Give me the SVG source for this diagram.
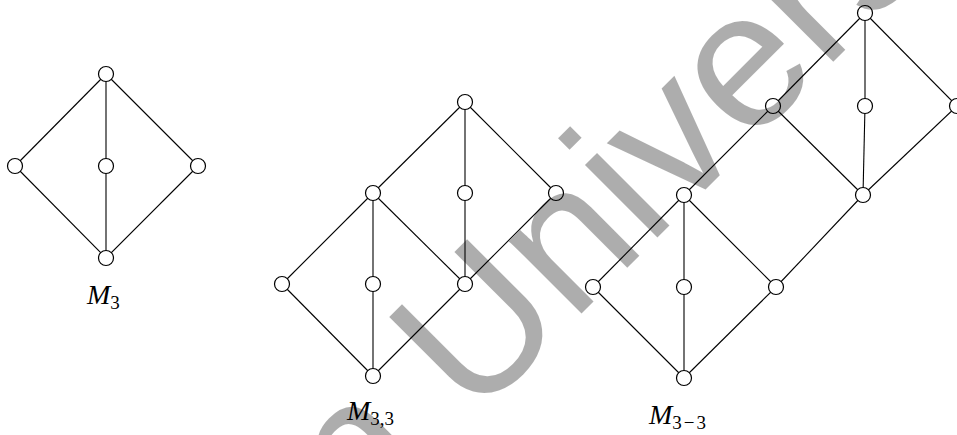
<svg xmlns="http://www.w3.org/2000/svg" width="957" height="435" viewBox="0 0 957 435">
  <style>
    .edge { stroke: #000; stroke-width: 1.1; fill: none; }
    .node { fill: #fff; stroke: #000; stroke-width: 1.2; }
    .lbl { font-family: "Liberation Serif", "Times New Roman", serif; fill: #000; }
    .it { font-style: italic; font-size: 28px; }
    .sub { font-size: 19px; }
    .mark { font-family: "Liberation Sans", Arial, sans-serif; font-size: 194px; fill: #000; fill-opacity: 0.32; }
  </style>
  <rect width="957" height="435" fill="#fff"/>

  <!-- connectors -->
  <g id="edges" class="edge">
    <!-- M3 -->
    <line x1="106" y1="74" x2="15" y2="166"/>
    <line x1="106" y1="74" x2="106" y2="166"/>
    <line x1="106" y1="74" x2="198" y2="166"/>
    <line x1="15" y1="166" x2="106" y2="258"/>
    <line x1="106" y1="166" x2="106" y2="258"/>
    <line x1="198" y1="166" x2="106" y2="258"/>
    <!-- M3,3 -->
    <line x1="465" y1="102" x2="373" y2="193"/>
    <line x1="465" y1="102" x2="465" y2="193"/>
    <line x1="465" y1="102" x2="556" y2="193"/>
    <line x1="373" y1="193" x2="282" y2="284"/>
    <line x1="373" y1="193" x2="373" y2="284"/>
    <line x1="373" y1="193" x2="465" y2="284"/>
    <line x1="465" y1="193" x2="465" y2="284"/>
    <line x1="556" y1="193" x2="465" y2="284"/>
    <line x1="282" y1="284" x2="373" y2="376"/>
    <line x1="373" y1="284" x2="373" y2="376"/>
    <line x1="465" y1="284" x2="373" y2="376"/>
    <!-- M3-3 -->
    <line x1="865" y1="13" x2="773" y2="106"/>
    <line x1="865" y1="13" x2="865" y2="106"/>
    <line x1="865" y1="13" x2="957" y2="106"/>
    <line x1="773" y1="106" x2="684" y2="195"/>
    <line x1="773" y1="106" x2="863" y2="195"/>
    <line x1="865" y1="106" x2="863" y2="195"/>
    <line x1="957" y1="106" x2="863" y2="195"/>
    <line x1="684" y1="195" x2="593" y2="287"/>
    <line x1="684" y1="195" x2="684" y2="287"/>
    <line x1="684" y1="195" x2="776" y2="287"/>
    <line x1="863" y1="195" x2="776" y2="287"/>
    <line x1="593" y1="287" x2="684" y2="378"/>
    <line x1="684" y1="287" x2="684" y2="378"/>
    <line x1="776" y1="287" x2="684" y2="378"/>
  </g>

  <!-- lattice M3 -->
  <g id="m3" class="node">
    <circle id="m3-top" cx="106" cy="74" r="7.5"/>
    <circle id="m3-a" cx="15" cy="166" r="7.5"/>
    <circle id="m3-b" cx="106" cy="166" r="7.5"/>
    <circle id="m3-c" cx="198" cy="166" r="7.5"/>
    <circle id="m3-bot" cx="106" cy="258" r="7.5"/>
  </g>

  <!-- lattice M3,3 -->
  <g id="m33" class="node">
    <circle id="m33-top" cx="465" cy="102" r="7.5"/>
    <circle id="m33-a" cx="373" cy="193" r="7.5"/>
    <circle id="m33-b" cx="465" cy="193" r="7.5"/>
    <circle id="m33-c" cx="556" cy="193" r="7.5"/>
    <circle id="m33-d" cx="282" cy="284" r="7.5"/>
    <circle id="m33-e" cx="373" cy="284" r="7.5"/>
    <circle id="m33-f" cx="465" cy="284" r="7.5"/>
    <circle id="m33-bot" cx="373" cy="376" r="7.5"/>
  </g>

  <!-- lattice M3-3 -->
  <g id="m3m3" class="node">
    <circle id="m3m3-top" cx="865" cy="13" r="7.5"/>
    <circle id="m3m3-a" cx="773" cy="106" r="7.5"/>
    <circle id="m3m3-b" cx="865" cy="106" r="7.5"/>
    <circle id="m3m3-c" cx="957" cy="106" r="7.5"/>
    <circle id="m3m3-d" cx="684" cy="195" r="7.5"/>
    <circle id="m3m3-e" cx="863" cy="195" r="7.5"/>
    <circle id="m3m3-f" cx="593" cy="287" r="7.5"/>
    <circle id="m3m3-g" cx="684" cy="287" r="7.5"/>
    <circle id="m3m3-h" cx="776" cy="287" r="7.5"/>
    <circle id="m3m3-bot" cx="684" cy="378" r="7.5"/>
  </g>

  <!-- captions -->
  <g id="labels" class="lbl">
    <text x="87" y="304"><tspan class="it">M</tspan><tspan class="sub" dy="5">3</tspan></text>
    <text x="347" y="420"><tspan class="it">M</tspan><tspan class="sub" dy="5">3,3</tspan></text>
    <text x="649" y="424"><tspan class="it">M</tspan><tspan class="sub" dy="5">3<tspan dx="2">−</tspan><tspan dx="2">3</tspan></tspan></text>
  </g>

  <!-- translucent diagonal overlay lettering -->
  <g id="overlay" transform="translate(473,422) rotate(-45)">
    <text class="mark" x="-161.8" y="0">n University</text>
  </g>
</svg>
